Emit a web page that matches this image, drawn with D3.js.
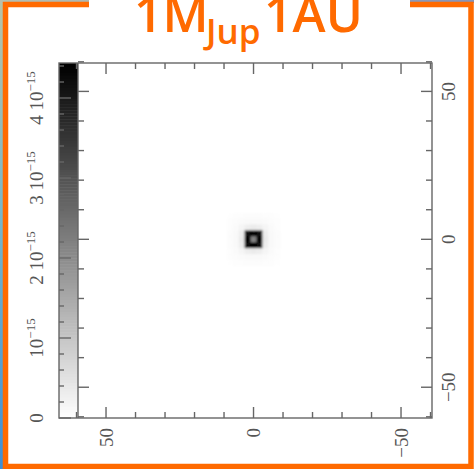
<!DOCTYPE html>
<html>
<head>
<meta charset="utf-8">
<script src="https://cdn.jsdelivr.net/npm/d3@7"></script>
<style>
  html, body { margin: 0; padding: 0; background: #fff; }
  svg { display: block; }
</style>
</head>
<body>
<div id="chart"></div>
<script>
// Image data: surface density near the planet, in units of 1e-15
var cellX = [8, 6, 4, 2, 0, -2, -4, -6, -8];
var cellY = [8, 6, 4, 2, 0, -2, -4, -6, -8];
var cellVal = [
  [0.02, 0.03, 0.04, 0.05, 0.05, 0.05, 0.04, 0.03, 0.02],
  [0.03, 0.05, 0.08, 0.10, 0.10, 0.10, 0.08, 0.05, 0.03],
  [0.04, 0.08, 0.18, 0.30, 0.35, 0.30, 0.18, 0.08, 0.04],
  [0.05, 0.10, 0.30, 4.30, 4.40, 4.30, 0.30, 0.10, 0.05],
  [0.05, 0.10, 0.35, 4.40, 2.20, 4.40, 0.35, 0.10, 0.05],
  [0.05, 0.10, 0.30, 4.30, 4.40, 4.30, 0.30, 0.10, 0.05],
  [0.04, 0.08, 0.18, 0.30, 0.35, 0.30, 0.18, 0.08, 0.04],
  [0.03, 0.05, 0.08, 0.10, 0.10, 0.10, 0.08, 0.05, 0.03],
  [0.02, 0.03, 0.04, 0.05, 0.05, 0.05, 0.04, 0.03, 0.02]
];
var cellSize = 2;

// axis ticks
var axisMajor = [50, 0, -50];
var axisMinor = [60, 40, 30, 20, 10, -10, -20, -30, -40, -60];

// colour wedge
var wedgeMax = 4.4375;
var wedgeMajor = [0, 1, 2, 3, 4];
var wedgeLabels = ["0", "10", "2 10", "3 10", "4 10"];
var wedgeMinor = [0.2, 0.4, 0.6, 0.8, 1.2, 1.4, 1.6, 1.8, 2.2, 2.4, 2.6, 2.8, 3.2, 3.4, 3.6, 3.8, 4.2, 4.4];

var W = 474, H = 469;
var orange = "#ff6a00";
var lineCol = "#666";
var textCol = "#555";
var font = "'Liberation Serif', serif";

var svg = d3.select("#chart").append("svg")
    .attr("width", W)
    .attr("height", H);

var defs = svg.append("defs");
var gl = defs.append("linearGradient").attr("id", "leftBg")
    .attr("x1", 0).attr("y1", 0).attr("x2", 0).attr("y2", 1);
gl.append("stop").attr("offset", "0%").attr("stop-color", "#b9c3a6");
gl.append("stop").attr("offset", "45%").attr("stop-color", "#79b7c9");
gl.append("stop").attr("offset", "100%").attr("stop-color", "#3f8fd6");
var gt = defs.append("linearGradient").attr("id", "topBg")
    .attr("x1", 0).attr("y1", 0).attr("x2", 1).attr("y2", 0);
gt.append("stop").attr("offset", "0%").attr("stop-color", "#b7bfae");
gt.append("stop").attr("offset", "100%").attr("stop-color", "#8893b6");
defs.append("filter").attr("id", "soft")
  .append("feGaussianBlur").attr("stdDeviation", 1.3);

// backdrop outside the frame
svg.append("rect").attr("x", 0).attr("y", 0).attr("width", W).attr("height", H).attr("fill", "#fff");
svg.append("rect").attr("x", 0).attr("y", 0).attr("width", 4).attr("height", H).attr("fill", "url(#leftBg)");
svg.append("rect").attr("x", 0).attr("y", 0).attr("width", W).attr("height", 3).attr("fill", "url(#topBg)");

// orange frame
svg.append("rect")
    .attr("x", 5.5).attr("y", 4.5)
    .attr("width", 465.5).attr("height", 462)
    .attr("fill", "#fff")
    .attr("stroke", orange)
    .attr("stroke-width", 5.5);

// gap for the title
svg.append("rect").attr("x", 89).attr("y", 0).attr("width", 321).attr("height", 10).attr("fill", "#fff");

var title = svg.append("text")
    .attr("y", 32)
    .attr("fill", orange)
    .style("font-family", "'Open Sans', sans-serif")
    .style("font-weight", 600)
    .style("font-size", "50px");
title.append("tspan").attr("x", 134).text("1M");
title.append("tspan").attr("x", 206).attr("dy", 12).style("font-size", "35px").text("Jup");
title.append("tspan").attr("x", 264).attr("dy", -12).text("1AU");

// scales
var x = d3.scaleLinear().domain([59.5, -60.5]).range([78, 432]);
var y = d3.scaleLinear().domain([59.6, -60.4]).range([63, 418]);
var yW = d3.scaleLinear().domain([0, wedgeMax]).range([418, 63]);
var grey = d3.scaleLinear().domain([0, wedgeMax]).range(["#fff", "#000"]).clamp(true);

// image
var cells = [];
cellVal.forEach(function(row, i) {
    row.forEach(function(v, j) {
        cells.push({x: cellX[j], y: cellY[i], v: v});
    });
});
svg.append("g")
    .attr("filter", "url(#soft)")
  .selectAll("rect")
  .data(cells)
  .enter().append("rect")
    .attr("x", function(d) { return x(d.x + cellSize / 2); })
    .attr("y", function(d) { return y(d.y + cellSize / 2); })
    .attr("width", Math.abs(x(cellSize) - x(0)) + 0.5)
    .attr("height", Math.abs(y(0) - y(cellSize)) + 0.5)
    .attr("fill", function(d) { return grey(d.v); });

// wedge
var wedgeSteps = d3.range(0, wedgeMax, wedgeMax / 120);
svg.append("g").selectAll("rect")
  .data(wedgeSteps)
  .enter().append("rect")
    .attr("x", 59)
    .attr("y", function(d) { return yW(d + wedgeMax / 120); })
    .attr("width", 19)
    .attr("height", Math.abs(yW(0) - yW(wedgeMax / 120)) + 0.5)
    .attr("fill", function(d) { return grey(d + wedgeMax / 240); });

var frame = svg.append("g")
    .attr("stroke", lineCol)
    .attr("stroke-width", 1.4)
    .attr("fill", "none");
frame.append("rect").attr("x", 59).attr("y", 63).attr("width", 373).attr("height", 355);
frame.append("line").attr("x1", 78).attr("x2", 78).attr("y1", 63).attr("y2", 418);

// wedge ticks
frame.selectAll(".wmaj").data(wedgeMajor).enter().append("line")
    .attr("x1", 59).attr("x2", 71)
    .attr("y1", function(d) { return yW(d); })
    .attr("y2", function(d) { return yW(d); });
frame.selectAll(".wmin").data(wedgeMinor).enter().append("line")
    .attr("x1", 59).attr("x2", 64)
    .attr("y1", function(d) { return yW(d); })
    .attr("y2", function(d) { return yW(d); });

// image axis ticks on all four sides
function ticks(vals, len) {
    frame.selectAll(null).data(vals).enter().append("line")
        .attr("x1", function(d) { return x(d); }).attr("x2", function(d) { return x(d); })
        .attr("y1", 418).attr("y2", 418 - len);
    frame.selectAll(null).data(vals).enter().append("line")
        .attr("x1", function(d) { return x(d); }).attr("x2", function(d) { return x(d); })
        .attr("y1", 63).attr("y2", 63 + len);
    frame.selectAll(null).data(vals).enter().append("line")
        .attr("y1", function(d) { return y(d); }).attr("y2", function(d) { return y(d); })
        .attr("x1", 78).attr("x2", 78 + len);
    frame.selectAll(null).data(vals).enter().append("line")
        .attr("y1", function(d) { return y(d); }).attr("y2", function(d) { return y(d); })
        .attr("x1", 432).attr("x2", 432 - len);
}
ticks(axisMajor, 11);
ticks(axisMinor, 6);

function fmt(d) { return d < 0 ? "\u2212" + Math.abs(d) : String(d); }

// bottom labels (rotated, reading upward)
svg.selectAll(".xl").data(axisMajor).enter().append("text")
    .attr("transform", function(d) { return "translate(" + (x(d) + 6.5) + ",428) rotate(-90)"; })
    .attr("text-anchor", "end")
    .attr("fill", textCol)
    .style("font-family", font)
    .style("font-size", "19px")
    .text(fmt);

// right labels
svg.selectAll(".yl").data(axisMajor).enter().append("text")
    .attr("transform", function(d) { return "translate(455," + y(d) + ") rotate(-90)"; })
    .attr("text-anchor", "middle")
    .attr("fill", textCol)
    .style("font-family", font)
    .style("font-size", "19px")
    .text(fmt);

// wedge labels
var wl = svg.selectAll(".wl").data(wedgeMajor).enter().append("text")
    .attr("transform", function(d) { return "translate(43," + yW(d) + ") rotate(-90)"; })
    .attr("text-anchor", "middle")
    .attr("fill", textCol)
    .style("font-family", font)
    .style("font-size", "19px");
wl.append("tspan").text(function(d, i) { return wedgeLabels[i]; });
wl.filter(function(d) { return d > 0; })
  .append("tspan")
    .attr("dy", -8)
    .style("font-size", "13px")
    .text("\u221215");
</script>
</body>
</html>
